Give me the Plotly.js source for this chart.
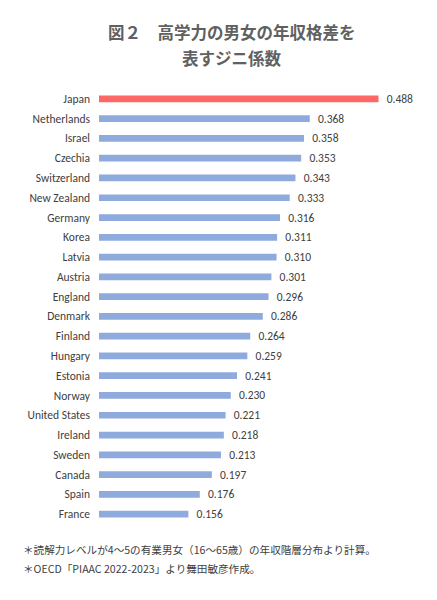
<!DOCTYPE html>
<html>
<head>
<meta charset="utf-8">
<script src="https://cdn.plot.ly/plotly-3.0.1.min.js"></script>
<style>
  html, body { margin: 0; padding: 0; background: #fff; }
  #plot { width: 437px; height: 600px; }
</style>
</head>
<body>
<div id="plot"></div>
<script>
const countries = [
  "Japan", "Netherlands", "Israel", "Czechia", "Switzerland", "New Zealand",
  "Germany", "Korea", "Latvia", "Austria", "England", "Denmark", "Finland",
  "Hungary", "Estonia", "Norway", "United States", "Ireland", "Sweden",
  "Canada", "Spain", "France"
];
const gini = [
  0.488, 0.368, 0.358, 0.353, 0.343, 0.333, 0.316, 0.311, 0.310, 0.301,
  0.296, 0.286, 0.264, 0.259, 0.241, 0.230, 0.221, 0.218, 0.213, 0.197,
  0.176, 0.156
];
const highlight = "Japan";
const titleLines = ["図２　高学力の男女の年収格差を", "表すジニ係数"];
const notes = [
  "＊読解力レベルが4～5の有業男女（16～65歳）の年収階層分布より計算。",
  "＊OECD「PIAAC 2022-2023」より舞田敏彦作成。"
];

const fontJP = "'Noto Sans CJK JP', 'Noto Sans', sans-serif";
const fontLatin = "Carlito, 'Open Sans', 'Liberation Sans', sans-serif";
const textGrey = "#595959";

// plot box in pixels, used to place titles and notes
const plotL = 99, plotT = 89, plotW = 315, plotH = 435;

const barColors = countries.map(c => c === highlight ? "#FF6666" : "#8FAADC");

const trace = {
  type: "bar",
  orientation: "h",
  x: gini,
  y: countries,
  marker: { color: barColors },
  width: 0.34,
  text: gini.map(v => "\u00a0\u00a0" + v.toFixed(3)),
  textposition: "outside",
  constraintext: "none",
  cliponaxis: false,
  textfont: { family: fontLatin, size: 11.5, color: "#404040" },
  hoverinfo: "skip"
};

const annotations = [];
titleLines.forEach((t, i) => {
  annotations.push({
    text: "<b>" + t + "</b>",
    xref: "paper", yref: "paper",
    x: (232 - plotL) / plotW,
    y: 1 + (plotT - (32 + i * 26)) / plotH,
    xanchor: "center", yanchor: "middle",
    showarrow: false,
    font: { family: fontJP, size: 16.5, color: "#606060" }
  });
});
notes.forEach((t, i) => {
  annotations.push({
    text: t,
    xref: "paper", yref: "paper",
    x: (21 - plotL) / plotW,
    y: -((549 + i * 19) - (plotT + plotH)) / plotH,
    xanchor: "left", yanchor: "middle",
    showarrow: false,
    font: { family: fontJP, size: 10.6, color: "#404040" }
  });
});

const layout = {
  width: 437,
  height: 600,
  margin: { l: plotL, r: 437 - plotL - plotW, t: plotT, b: 600 - plotT - plotH },
  paper_bgcolor: "#fff",
  plot_bgcolor: "#fff",
  showlegend: false,
  xaxis: {
    range: [0, 0.55],
    visible: false,
    fixedrange: true
  },
  yaxis: {
    autorange: "reversed",
    showgrid: false,
    zeroline: false,
    showline: false,
    ticks: "",
    ticklabelstandoff: 8,
    tickfont: { family: fontLatin, size: 11.5, color: "#404040" },
    fixedrange: true
  },
  annotations: annotations
};

Plotly.newPlot("plot", [trace], layout, { displayModeBar: false, staticPlot: true });
</script>
</body>
</html>
